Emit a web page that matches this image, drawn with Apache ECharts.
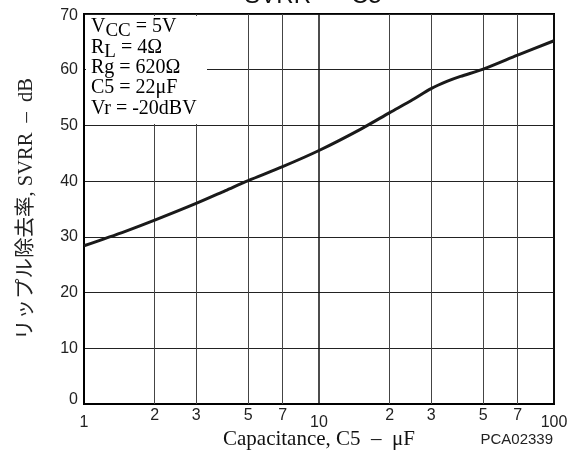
<!DOCTYPE html>
<html>
<head>
<meta charset="utf-8">
<script src="https://cdn.jsdelivr.net/npm/echarts@6/dist/echarts.min.js"></script>
<style>
html,body{margin:0;padding:0;background:#fff;}
#chart{width:576px;height:452px;}
</style>
</head>
<body>
<div id="chart"></div>
<script>
// ---- data ----
const capacitance = [1, 1.5, 2, 3, 4, 5, 7, 10, 15, 20, 25, 30, 35, 40, 50, 70, 100];
const svrr = [28.4, 31.0, 33.0, 36.0, 38.3, 40.1, 42.6, 45.5, 49.3, 52.3, 54.6, 56.6, 57.9, 58.8, 60.1, 62.6, 65.2];
const minorGridValues = [2, 3, 5, 7, 20, 30, 50, 70];
const minorGridLabels = ['2', '3', '5', '7', '2', '3', '5', '7'];
const yTicks = [0, 10, 20, 30, 40, 50, 60, 70];
const titleText = 'SVRR  \u2013  C5';
const xName = 'Capacitance, C5  \u2013  \u03bcF';
const yName = '\u30ea\u30c3\u30d7\u30eb\u9664\u53bb\u7387, SVRR  \u2013  dB';
const codeText = 'PCA02339';
const conditionLines = [
  '{n|V}{s|CC}{n| = 5V}',
  '{n|R}{s|L}{n| = 4\u03a9}',
  '{n|Rg = 620\u03a9}',
  '{n|C5 = 22\u03bcF}',
  '{n|Vr = -20dBV}'
];

const SANS = '"Liberation Sans", Arial, sans-serif';
const SERIF = '"Liberation Serif", "Times New Roman", "Noto Sans CJK JP", serif';

const chart = echarts.init(document.getElementById('chart'), null, {renderer: 'canvas'});

const condGraphics = [
  {type: 'rect', z: 100, shape: {x: 86, y: 16, width: 121, height: 108}, style: {fill: '#fff'}}
];
conditionLines.forEach((t, i) => {
  condGraphics.push({
    type: 'text', z: 101,
    style: {
      text: t, x: 91, y: 17 + i * 20.4,
      align: 'left', verticalAlign: 'top',
      rich: {
        n: {fontFamily: SERIF, fontSize: 20, color: '#111', verticalAlign: 'top'},
        s: {fontFamily: SERIF, fontSize: 19, color: '#111', verticalAlign: 'top', padding: [5, 0, 0, 0]}
      }
    }
  });
});

const option = {
  animation: false,
  backgroundColor: '#fff',
  grid: {left: 84, right: 22, top: 14, bottom: 48, show: true, borderColor: '#000', borderWidth: 2, backgroundColor: 'transparent', containLabel: false, outerBoundsMode: 'none'},
  xAxis: {
    type: 'log', logBase: 10, min: 1, max: 100,
    name: xName, nameLocation: 'middle', nameGap: 25, nameMoveOverlap: false,
    nameTextStyle: {fontFamily: SERIF, fontSize: 21, color: '#111'},
    axisLine: {show: true, lineStyle: {color: '#000', width: 2}},
    axisTick: {show: false},
    splitLine: {show: true, lineStyle: {color: '#111', width: 1.5}},
    axisLabel: {
      margin: 5,
      formatter: v => '{b|' + Math.round(v) + '}',
      rich: {b: {fontFamily: SANS, fontSize: 16, color: '#222', padding: [6, 0, 0, 0]}}
    }
  },
  yAxis: {
    type: 'value', min: 0, max: 70, interval: 10,
    name: yName, nameLocation: 'middle', nameGap: 47, nameRotate: 90, nameMoveOverlap: false,
    nameTextStyle: {fontFamily: SERIF, fontSize: 20.5, color: '#222'},
    axisLine: {show: true, lineStyle: {color: '#000', width: 2}},
    axisTick: {show: false},
    splitLine: {show: true, lineStyle: {color: '#222', width: 1}},
    axisLabel: {
      margin: 6,
      formatter: v => (v === 0 ? '{z|0}' : (v === 70 ? '{t|70}' : '{a|' + v + '}')),
      rich: {
        a: {fontFamily: SANS, fontSize: 16, color: '#222'},
        t: {fontFamily: SANS, fontSize: 16, color: '#222', padding: [3, 0, 0, 0]},
        z: {fontFamily: SANS, fontSize: 16, color: '#222', padding: [0, 0, 9, 0]}
      }
    }
  },
  graphic: [
    {type: 'text', z: 100, style: {text: titleText, x: 313, y: -4, align: 'center', verticalAlign: 'middle', fontFamily: SANS, fontSize: 24, fill: '#111'}},
    {type: 'text', z: 100, style: {text: codeText, x: 553, y: 440, align: 'right', verticalAlign: 'middle', fontFamily: SANS, fontSize: 15, fill: '#222'}}
  ].concat(condGraphics),
  series: [{
    type: 'line',
    data: capacitance.map((c, i) => [c, svrr[i]]),
    showSymbol: false,
    smooth: 0.3,
    lineStyle: {color: '#1a1a1a', width: 3},
    z: 5,
    markLine: {
      silent: true,
      symbol: 'none',
      animation: false,
      lineStyle: {color: '#444', width: 1, type: 'solid'},
      label: {show: true, position: 'start', distance: 4, fontFamily: SANS, fontSize: 16, color: '#222'},
      emphasis: {disabled: true},
      data: minorGridValues.map((v, i) => ({xAxis: v, label: {formatter: minorGridLabels[i]}}))
    }
  }]
};
chart.setOption(option);
</script>
</body>
</html>
